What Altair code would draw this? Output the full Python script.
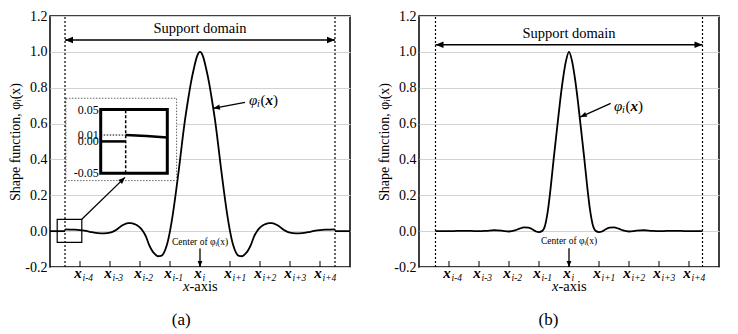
import math
import altair as alt
import pandas as pd

FONT = "Liberation Serif"
W, H = 300, 251
XDOM = [-5.0, 5.0]
YDOM = [-0.2, 1.2]

# ---------------- data ----------------
x_ticks = [-4, -3, -2, -1, 0, 1, 2, 3, 4]
x_subscripts = ["i-4", "i-3", "i-2", "i-1", "i", "i+1", "i+2", "i+3", "i+4"]
y_ticks = [-0.2, 0.0, 0.2, 0.4, 0.6, 0.8, 1.0, 1.2]

# panel (a): shape function inside the support domain
a_u = [-4.5, -4.25, -4.0, -3.8, -3.6, -3.4, -3.2, -3.0, -2.9, -2.8, -2.7, -2.6, -2.5,
       -2.4, -2.3, -2.2, -2.1, -2.0, -1.9, -1.8, -1.7, -1.6, -1.5, -1.4, -1.3, -1.2,
       -1.1, -1.0, -0.9, -0.8, -0.7, -0.6, -0.5, -0.4, -0.3, -0.2, -0.1, 0.0,
       0.1, 0.2, 0.3, 0.4, 0.5, 0.6, 0.7, 0.8, 0.9, 1.0, 1.1, 1.2, 1.3, 1.4, 1.5,
       1.6, 1.7, 1.8, 1.9, 2.0, 2.1, 2.2, 2.3, 2.4, 2.5, 2.6, 2.7, 2.8, 2.9, 3.0,
       3.2, 3.4, 3.6, 3.8, 4.0, 4.25, 4.5]
a_v = [0.010, 0.0085, 0.0062, 0.001, -0.006, -0.011, -0.012, -0.008, -0.003, 0.006,
       0.019, 0.031, 0.040, 0.045, 0.045, 0.041, 0.033, 0.020, 0.000, -0.030, -0.075,
       -0.108, -0.128, -0.140, -0.138, -0.120, -0.075, 0.000, 0.100, 0.220, 0.350,
       0.490, 0.620, 0.730, 0.830, 0.910, 0.975, 1.000,
       0.975, 0.910, 0.830, 0.730, 0.620, 0.490, 0.350, 0.220, 0.100, 0.000, -0.075,
       -0.120, -0.138, -0.140, -0.128, -0.108, -0.075, -0.030, 0.000, 0.020, 0.033,
       0.041, 0.045, 0.045, 0.040, 0.031, 0.019, 0.006, -0.003, -0.008, -0.012,
       -0.011, -0.006, 0.001, 0.0062, 0.0085, 0.010]
# panel (a): zero outside the support domain
a_left_u = [-5.0, -4.5]
a_left_v = [0.0, 0.0]
a_right_u = [4.5, 5.0]
a_right_v = [0.0, 0.0]

# panel (b)
b_u = [-4.45, -4.0, -3.75, -3.5, -3.25, -3.0, -2.75, -2.5, -2.25, -2.0, -1.8, -1.65,
       -1.5, -1.35, -1.2, -1.1, -1.0, -0.9, -0.8, -0.7, -0.6, -0.5, -0.4, -0.3, -0.2,
       -0.1, 0.0, 0.1, 0.2, 0.3, 0.4, 0.5, 0.6, 0.7, 0.8, 0.9, 1.0, 1.1, 1.2, 1.35,
       1.5, 1.65, 1.8, 2.0, 2.25, 2.5, 2.75, 3.0, 3.25, 3.5, 3.75, 4.0, 4.45]
b_v = [0.0, 0.0, 0.001, 0.002, 0.001, 0.0, 0.002, 0.005, 0.003, -0.002, 0.004, 0.014,
       0.021, 0.019, 0.008, -0.002, -0.005, 0.0, 0.03, 0.12, 0.26, 0.42, 0.57, 0.72,
       0.85, 0.95, 1.0, 0.95, 0.85, 0.72, 0.57, 0.42, 0.26, 0.12, 0.03, 0.0, -0.005,
       -0.002, 0.008, 0.019, 0.021, 0.014, 0.004, -0.002, 0.003, 0.005, 0.002, 0.0,
       0.001, 0.002, 0.001, 0.0, 0.0]

# inset of panel (a)
inset_u_domain = [-4.8, -4.0]
inset_v_domain = [-0.05, 0.05]
inset_label_values = [0.05, 0.01, 0.0, -0.05]
inset_labels = ["0.05", "0.01", "0.00", "-0.05"]
inset_jump_value = 0.01

# annotation anchors (data units of each panel)
PANEL_A = dict(
    title="(a)", support=4.5, support_arrow_v=1.066, support_text_v=1.127,
    phi_text=(1.63, 0.73), phi_from=(1.5, 0.718), phi_to=(0.44, 0.685),
    center_text_v=-0.06, center_from=-0.097,
    zoom_box_u=(-4.76, -3.94), zoom_box_v=(-0.063, 0.066),
    inset_bg_u=(-4.47, -0.78), inset_bg_v=(0.282, 0.741),
    inset_frame_u=(-3.31, -1.09), inset_frame_v=(0.323, 0.678),
    zoom_arrow_to=(-2.5, 0.30),
)
PANEL_B = dict(
    title="(b)", support=4.45, support_arrow_v=1.04, support_text_v=1.10,
    phi_text=(1.5, 0.70), phi_from=(1.39, 0.713), phi_to=(0.37, 0.636),
    center_text_v=-0.056, center_from=-0.095,
)

ARROW = "M0,0 L-1,-0.4 L-1,0.4 Z"


def px_u(u):
    return (u - XDOM[0]) / (XDOM[1] - XDOM[0]) * W


def py_v(v):
    return (YDOM[1] - v) / (YDOM[1] - YDOM[0]) * H


def heading(p1, p2):
    return math.degrees(math.atan2(py_v(p2[1]) - py_v(p1[1]), px_u(p2[0]) - px_u(p1[0]))) % 360


XS = alt.Scale(domain=XDOM, nice=False, zero=False)
YS = alt.Scale(domain=YDOM, nice=False, zero=False)

YAXIS = alt.Axis(
    values=y_ticks, format=".1f",
    labelExpr="replace(datum.label, '\u2212', '-')",
    grid=True, gridColor="#d2d2d2", gridWidth=1, ticks=False, domain=False,
    labelFont=FONT, labelFontSize=14, labelColor="black", labelPadding=3,
    title="Shape function, φᵢ(x)", titleFont=FONT, titleFontSize=14,
    titleFontWeight="normal", titleColor="black", titlePadding=2,
)


def X(f="u"):
    return alt.X(f"{f}:Q", scale=XS, axis=None)


def Y(f="v"):
    return alt.Y(f"{f}:Q", scale=YS, axis=YAXIS)


def one(u, v, **kw):
    d = {"u": [u], "v": [v]}
    for k, val in kw.items():
        d[k] = [val]
    return pd.DataFrame(d)


def text_at(u, v, text, **kw):
    props = dict(color="black", font=FONT)
    props.update(kw)
    return alt.Chart(one(u, v)).mark_text(text=text, **props).encode(x=X(), y=Y())


def build_panel(curve_df, cfg, with_inset=False):
    layers = []
    # curve with the y axis
    layers.append(
        alt.Chart(curve_df).mark_line(color="black", strokeWidth=1.8, interpolate="monotone")
        .encode(x=X(), y=Y(), detail="seg:N")
    )
    if with_inset:
        layers.append(
            alt.Chart(pd.DataFrame({"u": [cfg["inset_bg_u"][0]], "u2": [cfg["inset_bg_u"][1]],
                                    "v": [cfg["inset_bg_v"][0]], "v2": [cfg["inset_bg_v"][1]]}))
            .mark_rect(fill="white", stroke="#555555", strokeWidth=0.9, strokeDash=[1.5, 1.5])
            .encode(x=X(), x2="u2:Q", y=Y(), y2="v2:Q")
        )
    s = cfg["support"]
    # support boundaries
    layers.append(
        alt.Chart(pd.DataFrame({"u": [-s, s], "v": [YDOM[0]] * 2, "v2": [YDOM[1]] * 2}))
        .mark_rule(color="black", strokeWidth=1.2, strokeDash=[2, 2])
        .encode(x=X(), y=Y(), y2="v2:Q")
    )
    # x ticks (inward) and their labels
    tl = pd.DataFrame({"u": x_ticks, "v": [YDOM[0]] * len(x_ticks), "sub": x_subscripts})
    layers.append(
        alt.Chart(tl).mark_rule(color="black", strokeWidth=1)
        .encode(x=X(), y=Y(), y2=alt.value(H - 6))
    )
    layers.append(
        alt.Chart(tl).mark_text(text="x", font=FONT, fontSize=15, fontStyle="italic",
                                fontWeight="bold", align="center", baseline="alphabetic",
                                dx=-2, dy=11, color="black")
        .encode(x=X(), y=Y())
    )
    layers.append(
        alt.Chart(tl).mark_text(font=FONT, fontSize=9.5, fontStyle="italic", align="left",
                                baseline="alphabetic", dx=2.5, dy=14, color="black")
        .encode(x=X(), y=Y(), text="sub:N")
    )
    # x-axis title
    layers.append(text_at(0, YDOM[0], "x", fontSize=14.5, fontStyle="italic", align="right",
                          baseline="alphabetic", dx=-10.5, dy=24))
    layers.append(text_at(0, YDOM[0], "-axis", fontSize=14.5, align="left",
                          baseline="alphabetic", dx=-10.5, dy=24))

    # support domain arrow and text
    sv = cfg["support_arrow_v"]
    layers.append(
        alt.Chart(pd.DataFrame({"u": [-s], "u2": [s], "v": [sv]}))
        .mark_rule(color="black", strokeWidth=1.6).encode(x=X(), x2="u2:Q", y=Y())
    )
    layers.append(text_at(0, cfg["support_text_v"], "Support domain", fontSize=14.5,
                          align="center", baseline="middle"))

    # phi label
    pu, pv = cfg["phi_text"]
    pieces = [("φ", 0, 0, 15, "italic", "normal"),
              ("i", 8, 4, 10, "italic", "normal"),
              ("(", 11.5, 0, 15, "normal", "normal"),
              ("x", 16.5, 0, 15, "italic", "bold"),
              (")", 24, 0, 15, "normal", "normal")]
    for t, dx, dy, fs, st, wt in pieces:
        layers.append(text_at(pu, pv, t, fontSize=fs, fontStyle=st, fontWeight=wt,
                              align="left", baseline="middle", dx=dx, dy=dy))
    p1, p2 = cfg["phi_from"], cfg["phi_to"]
    shafts = [(p1[0], p1[1], p2[0], p2[1])]
    heads = [(-s, sv, 180, 256), (s, sv, 0, 256), (p2[0], p2[1], heading(p1, p2), 180)]

    # center annotation
    layers.append(text_at(0, cfg["center_text_v"], "Center of φᵢ(x)", fontSize=9.5,
                          align="center", baseline="middle"))
    shafts.append((0, cfg["center_from"], 0, YDOM[0]))
    heads.append((0, YDOM[0], 90, 144))

    if with_inset:
        bu, bv = cfg["zoom_box_u"], cfg["zoom_box_v"]
        layers.append(
            alt.Chart(pd.DataFrame({"u": [bu[0]], "u2": [bu[1]], "v": [bv[0]], "v2": [bv[1]]}))
            .mark_rect(fill="transparent", stroke="black", strokeWidth=1.2)
            .encode(x=X(), x2="u2:Q", y=Y(), y2="v2:Q")
        )
        z1 = (bu[1], bv[1])
        z2 = cfg["zoom_arrow_to"]
        shafts.append((z1[0], z1[1], z2[0], z2[1]))
        heads.append((z2[0], z2[1], heading(z1, z2), 180))

    sh = pd.DataFrame(shafts, columns=["u", "v", "u2", "v2"])
    layers.append(
        alt.Chart(sh).mark_rule(color="black", strokeWidth=1.3)
        .encode(x=X(), y=Y(), x2="u2:Q", y2="v2:Q")
    )
    hd = pd.DataFrame(heads, columns=["u", "v", "ang", "sz"])
    layers.append(
        alt.Chart(hd).mark_point(shape=ARROW, filled=True, color="black", opacity=1, strokeWidth=0)
        .encode(x=X(), y=Y(), angle=alt.Angle("ang:Q", scale=None), size=alt.Size("sz:Q", scale=None))
    )

    main = alt.layer(*layers)
    title = alt.Title(cfg["title"], orient="bottom", frame="bounds", anchor="middle",
                      font=FONT, fontSize=17, fontWeight="normal", color="black", offset=18)
    if not with_inset:
        return main.properties(width=W, height=H, title=title)

    fu, fv = cfg["inset_frame_u"], cfg["inset_frame_v"]
    XI = alt.Scale(domain=inset_u_domain, range=[px_u(fu[0]), px_u(fu[1])],
                   clamp=True, nice=False, zero=False)
    YI = alt.Scale(domain=inset_v_domain, range=[py_v(fv[0]), py_v(fv[1])],
                   nice=False, zero=False)

    def XIn(f="u"):
        return alt.X(f"{f}:Q", scale=XI, axis=None)

    def YIn(f="v"):
        return alt.Y(f"{f}:Q", scale=YI, axis=None)

    il = []
    il.append(
        alt.Chart(pd.DataFrame({"u": [inset_u_domain[0]], "u2": [inset_u_domain[1]],
                                "v": [inset_v_domain[0]], "v2": [inset_v_domain[1]]}))
        .mark_rect(fill="white", stroke="black", strokeWidth=3)
        .encode(x=XIn(), x2="u2:Q", y=YIn(), y2="v2:Q")
    )
    il.append(
        alt.Chart(pd.DataFrame({"u": [-s], "v": [inset_v_domain[0]], "v2": [inset_v_domain[1]]}))
        .mark_rule(color="black", strokeWidth=1.5, strokeDash=[3, 2])
        .encode(x=XIn(), y=YIn(), y2="v2:Q")
    )
    il.append(
        alt.Chart(pd.DataFrame({"u": [inset_u_domain[0]], "u2": [-s], "v": [inset_jump_value]}))
        .mark_rule(color="black", strokeWidth=1, strokeDash=[1.5, 1.5])
        .encode(x=XIn(), x2="u2:Q", y=YIn())
    )
    il.append(
        alt.Chart(curve_df).transform_filter(f"datum.u <= {inset_u_domain[1]}")
        .mark_line(color="black", strokeWidth=2.5)
        .encode(x=XIn(), y=YIn(), detail="seg:N")
    )
    il.append(
        alt.Chart(pd.DataFrame({"u": [inset_u_domain[0]] * 4, "v": inset_label_values,
                                "t": inset_labels}))
        .mark_text(font=FONT, fontSize=12, align="right", baseline="middle", dx=-2, color="black")
        .encode(x=XIn(), y=YIn(), text="t:N")
    )
    inset = alt.layer(*il)
    return (alt.layer(main, inset)
            .resolve_scale(x="independent", y="independent")
            .properties(width=W, height=H, title=title))


df_a = pd.concat([
    pd.DataFrame({"u": a_left_u, "v": a_left_v, "seg": "left"}),
    pd.DataFrame({"u": a_u, "v": a_v, "seg": "support"}),
    pd.DataFrame({"u": a_right_u, "v": a_right_v, "seg": "right"}),
], ignore_index=True)
df_b = pd.DataFrame({"u": b_u, "v": b_v, "seg": "support"})

panel_a = build_panel(df_a, PANEL_A, with_inset=True)
panel_b = build_panel(df_b, PANEL_B, with_inset=False)

chart = (
    alt.hconcat(panel_a, panel_b, spacing=22, padding=0)
    .configure_view(stroke="black", strokeWidth=1.5)
)

chart.save("out.html", embed_options={"renderer": "svg", "actions": False})
